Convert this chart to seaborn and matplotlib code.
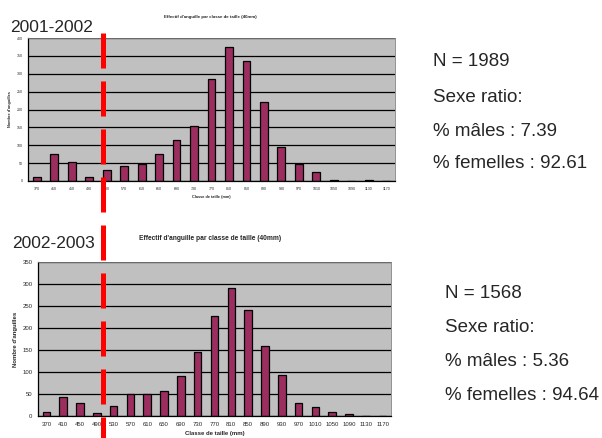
import matplotlib
matplotlib.use("Agg")
import matplotlib.pyplot as plt
import numpy as np
import pandas as pd
import seaborn as sns
from matplotlib.lines import Line2D

# Size classes (mm), same for both seasons
classes = [370, 410, 450, 490, 530, 570, 610, 650, 690, 730, 770,
           810, 850, 890, 930, 970, 1010, 1050, 1090, 1130, 1170]

# Counts
counts_2001 = [11, 76, 54, 11, 30, 42, 47, 76, 114, 155, 285,
               375, 336, 222, 95, 48, 24, 3, 0, 3, 0]
counts_2002 = [10, 43, 29, 6, 23, 49, 49, 56, 92, 145, 227,
               292, 242, 160, 93, 30, 20, 10, 4, 0, 0]

seasons = ["2001-2002", "2002-2003"]
stats_2001 = ["N = 1989", "Sexe ratio:", "% mâles : 7.39", "% femelles : 92.61"]
stats_2002 = ["N = 1568", "Sexe ratio:", "% mâles : 5.36", "% femelles : 94.64"]

title = "Effectif d'anguille par classe de taille (40mm)"
bar_color = "#9b2d5f"

sns.set_style("white")
plt.rcParams["font.family"] = ["Liberation Sans", "DejaVu Sans"]

fig = plt.figure(figsize=(6.02, 4.38), dpi=100)
W, H = 602, 438


def px_axes(left, top, right, bottom):
    return fig.add_axes([left / W, 1 - bottom / H, (right - left) / W, (bottom - top) / H])


ax1 = px_axes(28, 38, 395, 181)
ax2 = px_axes(38, 262, 391, 416)


def draw(ax, counts, ymax, tick_fs, lab_fs):
    df = pd.DataFrame({"classe": [str(c) for c in classes], "n": counts})
    sns.barplot(data=df, x="classe", y="n", color=bar_color, edgecolor="black",
                linewidth=0.9, width=0.45, saturation=1, ax=ax)
    ax.set_facecolor("#c0c0c0")
    ax.set_ylim(0, ymax)
    ax.set_xlim(-0.5, len(classes) - 0.5)
    ax.set_yticks(np.arange(0, ymax + 1, 50))
    ax.yaxis.grid(True, color="black", linewidth=0.9)
    ax.set_axisbelow(True)
    ax.tick_params(axis="both", labelsize=tick_fs, length=2, width=0.7, color="black", pad=2)
    ax.tick_params(axis="x", length=0, pad=4)
    ax.set_xticks(np.arange(-0.5, len(classes), 1), minor=True)
    ax.tick_params(axis="x", which="minor", length=2, width=0.7, color="black")
    for s in ["top", "right"]:
        ax.spines[s].set_color("#808080")
        ax.spines[s].set_linewidth(0.6)
    for s in ["left", "bottom"]:
        ax.spines[s].set_color("black")
        ax.spines[s].set_linewidth(0.9)
    ax.set_xlabel("Classe de taille (mm)", fontsize=lab_fs, fontweight="bold", labelpad=3)
    ax.set_ylabel("Nombre d'anguilles", fontsize=lab_fs, fontweight="bold", labelpad=3)


draw(ax1, counts_2001, 400, 2.6, 2.8)
draw(ax2, counts_2002, 350, 4.3, 4.3)

fig.text(210 / W, 1 - 17 / H, title, fontsize=3.2, fontweight="bold", ha="center", va="center")
fig.text(210 / W, 1 - 239 / H, title, fontsize=4.8, fontweight="bold", ha="center", va="center")
fig.text(10 / W, 1 - 27 / H, seasons[0], fontsize=12.5, ha="left", va="center")
fig.text(12 / W, 1 - 244 / H, seasons[1], fontsize=12.5, ha="left", va="center")

for s, y in zip(stats_2001, [62, 97, 131, 164]):
    fig.text(433 / W, 1 - y / H, s, fontsize=13.5, ha="left", va="center")
for s, y in zip(stats_2002, [294, 328, 361, 395]):
    fig.text(445 / W, 1 - y / H, s, fontsize=13.5, ha="left", va="center")

# red dashed separator across both charts
fig.add_artist(Line2D([103 / W, 103 / W], [1 - 33 / H, 0], transform=fig.transFigure,
                      color="red", linewidth=3.6, linestyle=(0, (7.0, 2.6))))

fig.savefig("out.png", dpi=100)
